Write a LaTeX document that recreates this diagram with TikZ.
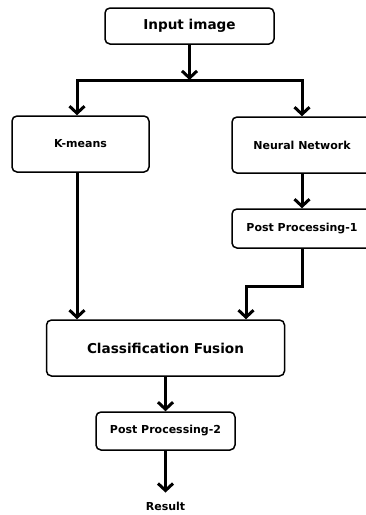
\documentclass[tikz,border=0pt]{standalone}
\usepackage{fontspec}
\setmainfont{DejaVu Sans}
\usetikzlibrary{arrows.meta, positioning, calc}
\tikzset{
    stageBox/.style={rectangle, rounded corners=5pt, draw=black, line width=1.5pt, fill=white, inner sep=2pt, font=\fontsize{11}{13}\selectfont\bfseries},
    bigBox/.style={stageBox, font=\fontsize{13.6}{16}\selectfont\bfseries},
    flowLine/.style={line width=3pt},
    flowArrow/.style={flowLine, -{Straight Barb[length=7pt, width=15pt]}}
}

\begin{document}
\begin{tikzpicture}[x=1pt, y=-1pt]
    \useasboundingbox (0,0) rectangle (365,515);

    % Stages
    \node[bigBox, minimum width=169pt, minimum height=36pt] (inputImg) at (189.5,26) {Input image};
    \node[stageBox, minimum width=137pt, minimum height=56pt] (kmeans) at (80.5,144) {K-means};
    \node[stageBox, minimum width=140pt, minimum height=56pt] (neuralNet) at (302,145) {Neural Network};
    \node[stageBox, minimum width=140pt, minimum height=39pt] (postOne) at (302,228.5) {Post Processing-1};
    \node[bigBox, minimum width=238pt, minimum height=56pt] (fusion) at (165.5,348) {Classification Fusion};
    \node[stageBox, minimum width=139pt, minimum height=38pt] (postTwo) at (165.5,431) {Post Processing-2};
    \node[font=\fontsize{11}{13}\selectfont\bfseries, inner sep=1pt] (result) at (165.5,506) {Result};

    % Coordinates
    \coordinate (split) at (189.5,80);
    \coordinate (barL) at (77,80);
    \coordinate (barR) at (302,80);
    \coordinate (jogL) at (246,286);

    % Connectors
    \draw[flowArrow] (inputImg) -- (split);
    \draw[flowArrow] (split) -- (barL) -- (barL |- kmeans.north);
    \draw[flowArrow] (split) -- (barR) -- (neuralNet);
    \draw[flowArrow] (barL |- kmeans.south) -- (barL |- fusion.north);
    \draw[flowArrow] (neuralNet) -- (postOne);
    \draw[flowArrow] (postOne) |- (jogL) -- (jogL |- fusion.north);
    \draw[flowArrow] (fusion) -- (postTwo);
    \draw[flowArrow, shorten >=8pt] (postTwo) -- (result);

\end{tikzpicture}
\end{document}
